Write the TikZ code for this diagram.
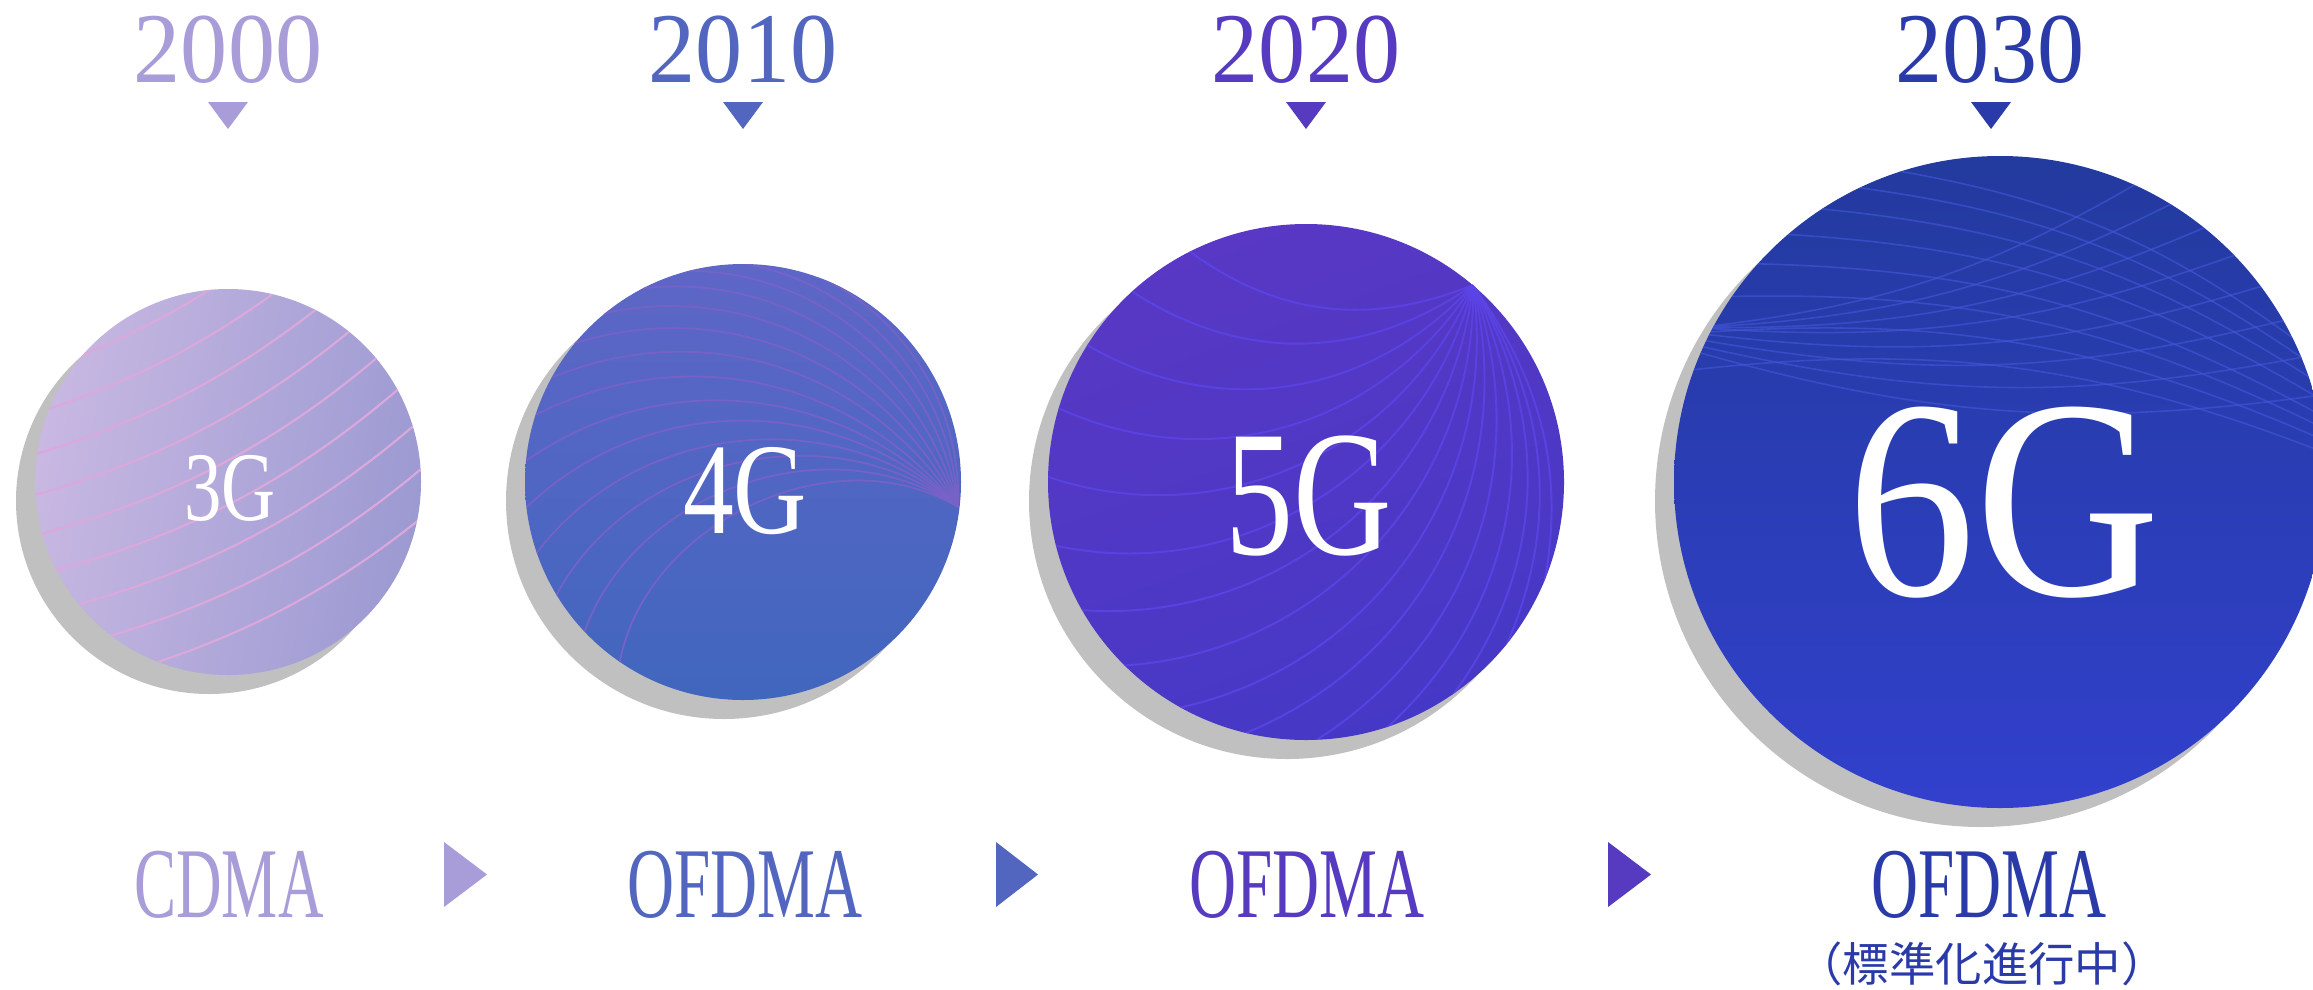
\documentclass[tikz,border=0pt]{standalone}
\usepackage{fontspec}
\setmainfont{Liberation Serif}
\newfontfamily\jpfont{Noto Sans CJK JP}
\usepackage{graphicx}

\definecolor{gen3}{HTML}{A89DD8}
\definecolor{gen4}{HTML}{5266C0}
\definecolor{gen5}{HTML}{563AC0}
\definecolor{gen6}{HTML}{2A3AA8}
\definecolor{shadowgray}{HTML}{C0C0C0}
\definecolor{wavepink}{HTML}{DCA8DC}
\definecolor{wavelilac}{HTML}{7A62C8}
\definecolor{waveviolet}{HTML}{5C44E8}
\definecolor{waveblue}{HTML}{4458DA}

\tikzset{
  yearlbl/.style={font=\fontsize{28.5}{30}\selectfont, inner sep=0pt, anchor=base},
  techlbl/.style={font=\fontsize{28.5}{30}\selectfont, inner sep=0pt, anchor=base},
  genlbl/.style={text=white, inner sep=0pt},
  shadowc/.style={fill=shadowgray},
  wave3/.style={draw=wavepink, line width=0.6pt},
  wave4/.style={draw=wavelilac, line width=0.5pt, opacity=0.9},
  wave5/.style={draw=waveviolet, line width=0.55pt, opacity=0.85},
  wave6/.style={draw=waveblue, line width=0.45pt, opacity=0.6}
}

\begin{document}
\begin{tikzpicture}
        \useasboundingbox (0,0) rectangle (23.13,9.89);

        % centres of the four circles
        \coordinate (c3) at (2.28,5.07);
        \coordinate (c4) at (7.43,5.07);
        \coordinate (c5) at (13.06,5.07);
        \coordinate (c6) at (20.00,5.07);

        % shadows
        \fill[shadowc] (2.28-0.19,5.07-0.19) circle (1.93);
        \fill[shadowc] (7.43-0.19,5.07-0.19) circle (2.18);
        \fill[shadowc] (13.06-0.19,5.07-0.19) circle (2.58);
        \fill[shadowc] (20.00-0.19,5.07-0.19) circle (3.26);

        % 3G
        \shade[left color={rgb,255:red,200;green,184;blue,226}, right color={rgb,255:red,156;green,154;blue,210}, shading angle=80] (c3) circle (1.93);
        \begin{scope}[shift={(c3)}]
            \clip (0,0) circle (1.93);
            \draw[wave3, shift={(-4*0.16,4*0.36)}] (-2.6,-0.7) .. controls (-0.8,-0.3) and (0.6,0.3) .. (2.2,1.9);
            \draw[wave3, shift={(-3*0.16,3*0.36)}] (-2.6,-0.7) .. controls (-0.8,-0.3) and (0.6,0.3) .. (2.2,1.9);
            \draw[wave3, shift={(-2*0.16,2*0.36)}] (-2.6,-0.7) .. controls (-0.8,-0.3) and (0.6,0.3) .. (2.2,1.9);
            \draw[wave3, shift={(-1*0.16,1*0.36)}] (-2.6,-0.7) .. controls (-0.8,-0.3) and (0.6,0.3) .. (2.2,1.9);
            \draw[wave3] (-2.6,-0.7) .. controls (-0.8,-0.3) and (0.6,0.3) .. (2.2,1.9);
            \draw[wave3, shift={(1*0.16,-1*0.36)}] (-2.6,-0.7) .. controls (-0.8,-0.3) and (0.6,0.3) .. (2.2,1.9);
            \draw[wave3, shift={(2*0.16,-2*0.36)}] (-2.6,-0.7) .. controls (-0.8,-0.3) and (0.6,0.3) .. (2.2,1.9);
            \draw[wave3, shift={(3*0.16,-3*0.36)}] (-2.6,-0.7) .. controls (-0.8,-0.3) and (0.6,0.3) .. (2.2,1.9);
            \draw[wave3, shift={(4*0.16,-4*0.36)}] (-2.6,-0.7) .. controls (-0.8,-0.3) and (0.6,0.3) .. (2.2,1.9);
        \end{scope}

        % 4G
        \shade[top color={rgb,255:red,94;green,102;blue,198}, bottom color={rgb,255:red,65;green,102;blue,190}] (c4) circle (2.18);
        \begin{scope}[shift={(c4)}]
            \clip (0,0) circle (2.18);
            \draw[wave4] (2.15,-0.25) to[bend right=45] (95:2.3);
            \draw[wave4] (2.15,-0.25) to[bend right=45] (105:2.3);
            \draw[wave4] (2.15,-0.25) to[bend right=45] (115:2.3);
            \draw[wave4] (2.15,-0.25) to[bend right=44] (125:2.3);
            \draw[wave4] (2.15,-0.25) to[bend right=43] (135:2.3);
            \draw[wave4] (2.15,-0.25) to[bend right=42] (145:2.3);
            \draw[wave4] (2.15,-0.25) to[bend right=41] (155:2.3);
            \draw[wave4] (2.15,-0.25) to[bend right=40] (165:2.3);
            \draw[wave4] (2.15,-0.25) to[bend right=42] (177:2.3);
            \draw[wave4] (2.15,-0.25) to[bend right=45] (189:2.3);
            \draw[wave4] (2.15,-0.25) to[bend right=48] (201:2.3);
            \draw[wave4] (2.15,-0.25) to[bend right=51] (213:2.3);
            \draw[wave4] (2.15,-0.25) to[bend right=54] (225:2.3);
            \draw[wave4] (2.15,-0.25) to[bend right=57] (237:2.3);
        \end{scope}

        % 5G
        \shade[top color={rgb,255:red,88;green,56;blue,196}, bottom color={rgb,255:red,70;green,56;blue,198}, shading angle=20] (c5) circle (2.58);
        \begin{scope}[shift={(c5)}]
            \clip (0,0) circle (2.58);
            \draw[wave5] (1.67,1.97) to[bend left=30] (118:2.7);
            \draw[wave5] (1.67,1.97) to[bend left=35] (133:2.7);
            \draw[wave5] (1.67,1.97) to[bend left=40] (148:2.7);
            \draw[wave5] (1.67,1.97) to[bend left=42] (163:2.7);
            \draw[wave5] (1.67,1.97) to[bend left=44] (178:2.7);
            \draw[wave5] (1.67,1.97) to[bend left=45] (193:2.7);
            \draw[wave5] (1.67,1.97) to[bend left=45] (208:2.7);
            \draw[wave5] (1.67,1.97) to[bend left=45] (223:2.7);
            \draw[wave5] (1.67,1.97) to[bend left=44] (238:2.7);
            \draw[wave5] (1.67,1.97) to[bend left=42] (253:2.7);
            \draw[wave5] (1.67,1.97) to[bend left=40] (268:2.7);
            \draw[wave5] (1.67,1.97) to[bend left=38] (283:2.7);
            \draw[wave5] (1.67,1.97) to[bend left=35] (298:2.7);
            \draw[wave5] (1.67,1.97) to[bend left=30] (313:2.7);
            \draw[wave5] (1.67,1.97) to[bend left=25] (328:2.7);
        \end{scope}

        % 6G
        \shade[top color={rgb,255:red,35;green,58;blue,158}, bottom color={rgb,255:red,50;green,64;blue,204}] (c6) circle (3.26);
        \begin{scope}[shift={(c6)}]
            \clip (0,0) circle (3.26);
            \draw[wave6] (112:3.4) to[bend left=14] (22:3.4);
            \draw[wave6] (119:3.4) to[bend left=14] (19:3.4);
            \draw[wave6] (126:3.4) to[bend left=14] (16:3.4);
            \draw[wave6] (133:3.4) to[bend left=14] (13:3.4);
            \draw[wave6] (140:3.4) to[bend left=14] (10:3.4);
            \draw[wave6] (147:3.4) to[bend left=14] (8:3.4);
            \draw[wave6] (154:3.4) to[bend left=14] (6:3.4);
            \draw[wave6] (161:3.4) to[bend left=14] (4:3.4);
            \draw[wave6] (153:3.4) to[bend right=12] (64:3.4);
            \draw[wave6] (153:3.4) to[bend right=12] (57:3.4);
            \draw[wave6] (153:3.4) to[bend right=12] (50:3.4);
            \draw[wave6] (153:3.4) to[bend right=12] (43:3.4);
            \draw[wave6] (154:3.4) to[bend right=12] (36:3.4);
            \draw[wave6] (155:3.4) to[bend right=12] (29:3.4);
            \draw[wave6] (156:3.4) to[bend right=12] (22:3.4);
            \draw[wave6] (157:3.4) to[bend right=12] (15:3.4);
        \end{scope}

        % generation labels
        \node[genlbl, font=\fontsize{28}{30}\selectfont] (g3) at (2.30,5.01) {\scalebox{0.76}[1]{3G}};
        \node[genlbl, font=\fontsize{37}{40}\selectfont] (g4) at (7.45,4.98) {\scalebox{0.78}[1]{4G}};
        \node[genlbl, font=\fontsize{51}{55}\selectfont] (g5) at (13.09,4.93) {\scalebox{0.76}[1]{5G}};
        \node[genlbl, font=\fontsize{81}{85}\selectfont] (g6) at (20.04,4.86) {\scalebox{0.9}[1]{6G}};

        % years and markers
        \node[yearlbl, text=gen3] (y2000) at (2.28,9.07) {\scalebox{0.94}[1]{2000}};
        \node[yearlbl, text=gen4] (y2010) at (7.43,9.07) {\scalebox{0.94}[1]{2010}};
        \node[yearlbl, text=gen5] (y2020) at (13.06,9.07) {\scalebox{0.94}[1]{2020}};
        \node[yearlbl, text=gen6] (y2030) at (19.90,9.07) {\scalebox{0.94}[1]{2030}};
        \fill[gen3] (2.28-0.2,8.87) -- (2.28+0.2,8.87) -- (2.28,8.60) -- cycle;
        \fill[gen4] (7.43-0.2,8.87) -- (7.43+0.2,8.87) -- (7.43,8.60) -- cycle;
        \fill[gen5] (13.06-0.2,8.87) -- (13.06+0.2,8.87) -- (13.06,8.60) -- cycle;
        \fill[gen6] (19.91-0.2,8.87) -- (19.91+0.2,8.87) -- (19.91,8.60) -- cycle;

        % access schemes
        \node[techlbl, text=gen3] (t3) at (2.29,0.72) {\scalebox{0.63}[1]{CDMA}};
        \node[techlbl, text=gen4] (t4) at (7.45,0.72) {\scalebox{0.65}[1]{OFDMA}};
        \node[techlbl, text=gen5] (t5) at (13.07,0.72) {\scalebox{0.65}[1]{OFDMA}};
        \node[techlbl, text=gen6] (t6) at (19.89,0.72) {\scalebox{0.65}[1]{OFDMA}};
        \node[font=\jpfont\fontsize{13.2}{15}\selectfont, text=gen6, inner sep=0pt] (note) at (19.82,0.25) {（標準化進行中）};
        \fill[gen3] (4.44,1.47) -- (4.87,1.145) -- (4.44,0.82) -- cycle;
        \fill[gen4] (9.96,1.47) -- (10.38,1.145) -- (9.96,0.82) -- cycle;
        \fill[gen5] (16.08,1.47) -- (16.51,1.145) -- (16.08,0.82) -- cycle;
\end{tikzpicture}
\end{document}
